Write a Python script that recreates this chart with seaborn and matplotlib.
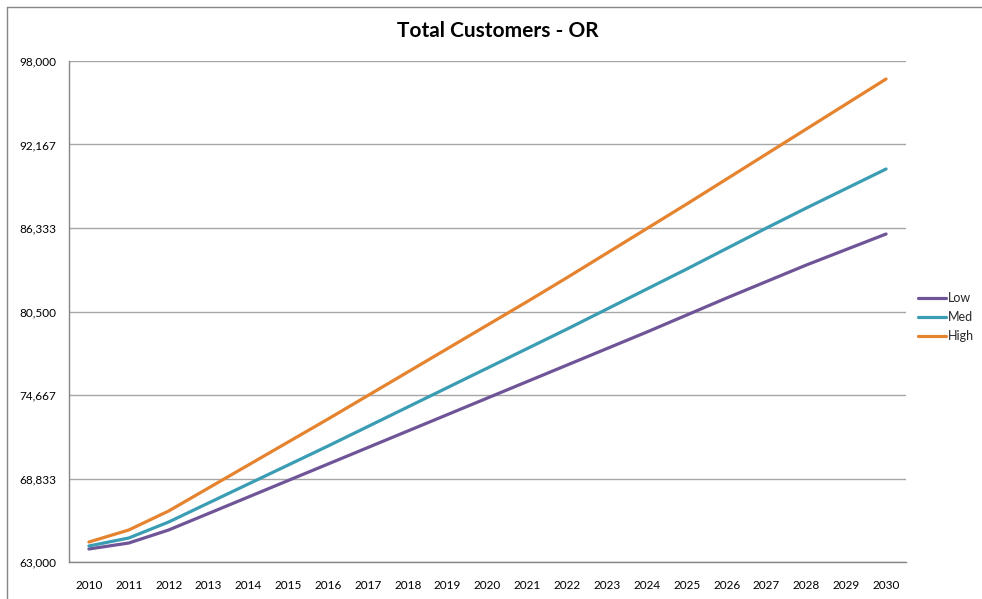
import pandas as pd
import seaborn as sns
import matplotlib.pyplot as plt
from matplotlib.ticker import FixedLocator, FuncFormatter
from matplotlib.lines import Line2D

years = list(range(2010, 2031))

low = [63908, 64327, 65236, 66388, 67541, 68694, 69846, 70999, 72152, 73304,
       74457, 75610, 76762, 77915, 79068, 80255, 81443, 82596, 83748, 84831, 85914]
med = [64118, 64677, 65794, 67122, 68449, 69776, 71104, 72466, 73828, 75191,
       76553, 77915, 79277, 80675, 82072, 83469, 84901, 86333, 87730, 89092, 90455]
high = [64397, 65236, 66563, 68170, 69776, 71383, 72990, 74632, 76273, 77915,
        79557, 81198, 82875, 84587, 86298, 88010, 89756, 91503, 93249, 94996, 96742]

series_names = ['Low', 'Med', 'High']
colors = {'Low': '#6F5597', 'Med': '#3A9DB3', 'High': '#E5832F'}

y_ticks = [63000, 68833, 74667, 80500, 86333, 92167, 98000]

# long-form table for seaborn
df = pd.DataFrame({
    'year': years * 3,
    'customers': low + med + high,
    'scenario': ['Low'] * len(years) + ['Med'] * len(years) + ['High'] * len(years),
})

sns.set_style("white")
plt.rcParams['font.family'] = ['Lato', 'DejaVu Sans']

fig = plt.figure(figsize=(9.82, 5.99), dpi=100)
ax = fig.add_axes([69 / 982, 1 - 562 / 599, (906 - 69) / 982, (562 - 61) / 599])

sns.lineplot(data=df, x='year', y='customers', hue='scenario',
             hue_order=series_names, palette=colors, linewidth=2.3,
             legend=False, ax=ax)

ax.set_xlim(2009.5, 2030.5)
ax.set_ylim(63000, 98000)

# y axis
ax.yaxis.set_major_locator(FixedLocator(y_ticks))
ax.yaxis.set_major_formatter(FuncFormatter(lambda v, p: f'{int(round(v)):,}'))
ax.grid(axis='y', color='#A6A6A6', linewidth=1)
ax.set_axisbelow(True)

# x axis: tick marks between categories, labels in the middle
ax.xaxis.set_major_locator(FixedLocator([y - 0.5 for y in years] + [2030.5]))
ax.xaxis.set_major_formatter(FuncFormatter(lambda v, p: ''))
ax.xaxis.set_minor_locator(FixedLocator(years))
ax.xaxis.set_minor_formatter(FuncFormatter(lambda v, p: str(int(round(v)))))

ax.tick_params(axis='x', which='major', length=5, width=1, color='#868686', direction='out')
ax.tick_params(axis='x', which='minor', length=0, pad=13, labelsize=8.5, labelcolor='black')
ax.tick_params(axis='y', which='major', length=5, width=1, color='#868686', direction='out',
               pad=4, labelsize=8.5, labelcolor='black')

for side in ['top', 'right']:
    ax.spines[side].set_visible(False)
for side in ['left', 'bottom']:
    ax.spines[side].set_color('#868686')
    ax.spines[side].set_linewidth(1)

ax.set_xlabel('')
ax.set_ylabel('')

fig.text(498 / 982, 1 - 31 / 599, 'Total Customers - OR', ha='center', va='center',
         fontsize=15, fontweight='bold', color='black')

handles = [Line2D([0], [0], color=colors[n], linewidth=2.3) for n in series_names]
fig.legend(handles, series_names, loc='center left', bbox_to_anchor=(912 / 982, 1 - 317 / 599),
           frameon=False, fontsize=9, handlelength=2.2, handletextpad=0.2,
           labelspacing=0.55, borderpad=0)

# outer chart border (top and left visible)
fig.add_artist(Line2D([7 / 982, 1], [1 - 7 / 599, 1 - 7 / 599], color='#868686', linewidth=1))
fig.add_artist(Line2D([7 / 982, 7 / 982], [0, 1 - 7 / 599], color='#868686', linewidth=1))

fig.savefig('out.png', dpi=100)
plt.close(fig)
